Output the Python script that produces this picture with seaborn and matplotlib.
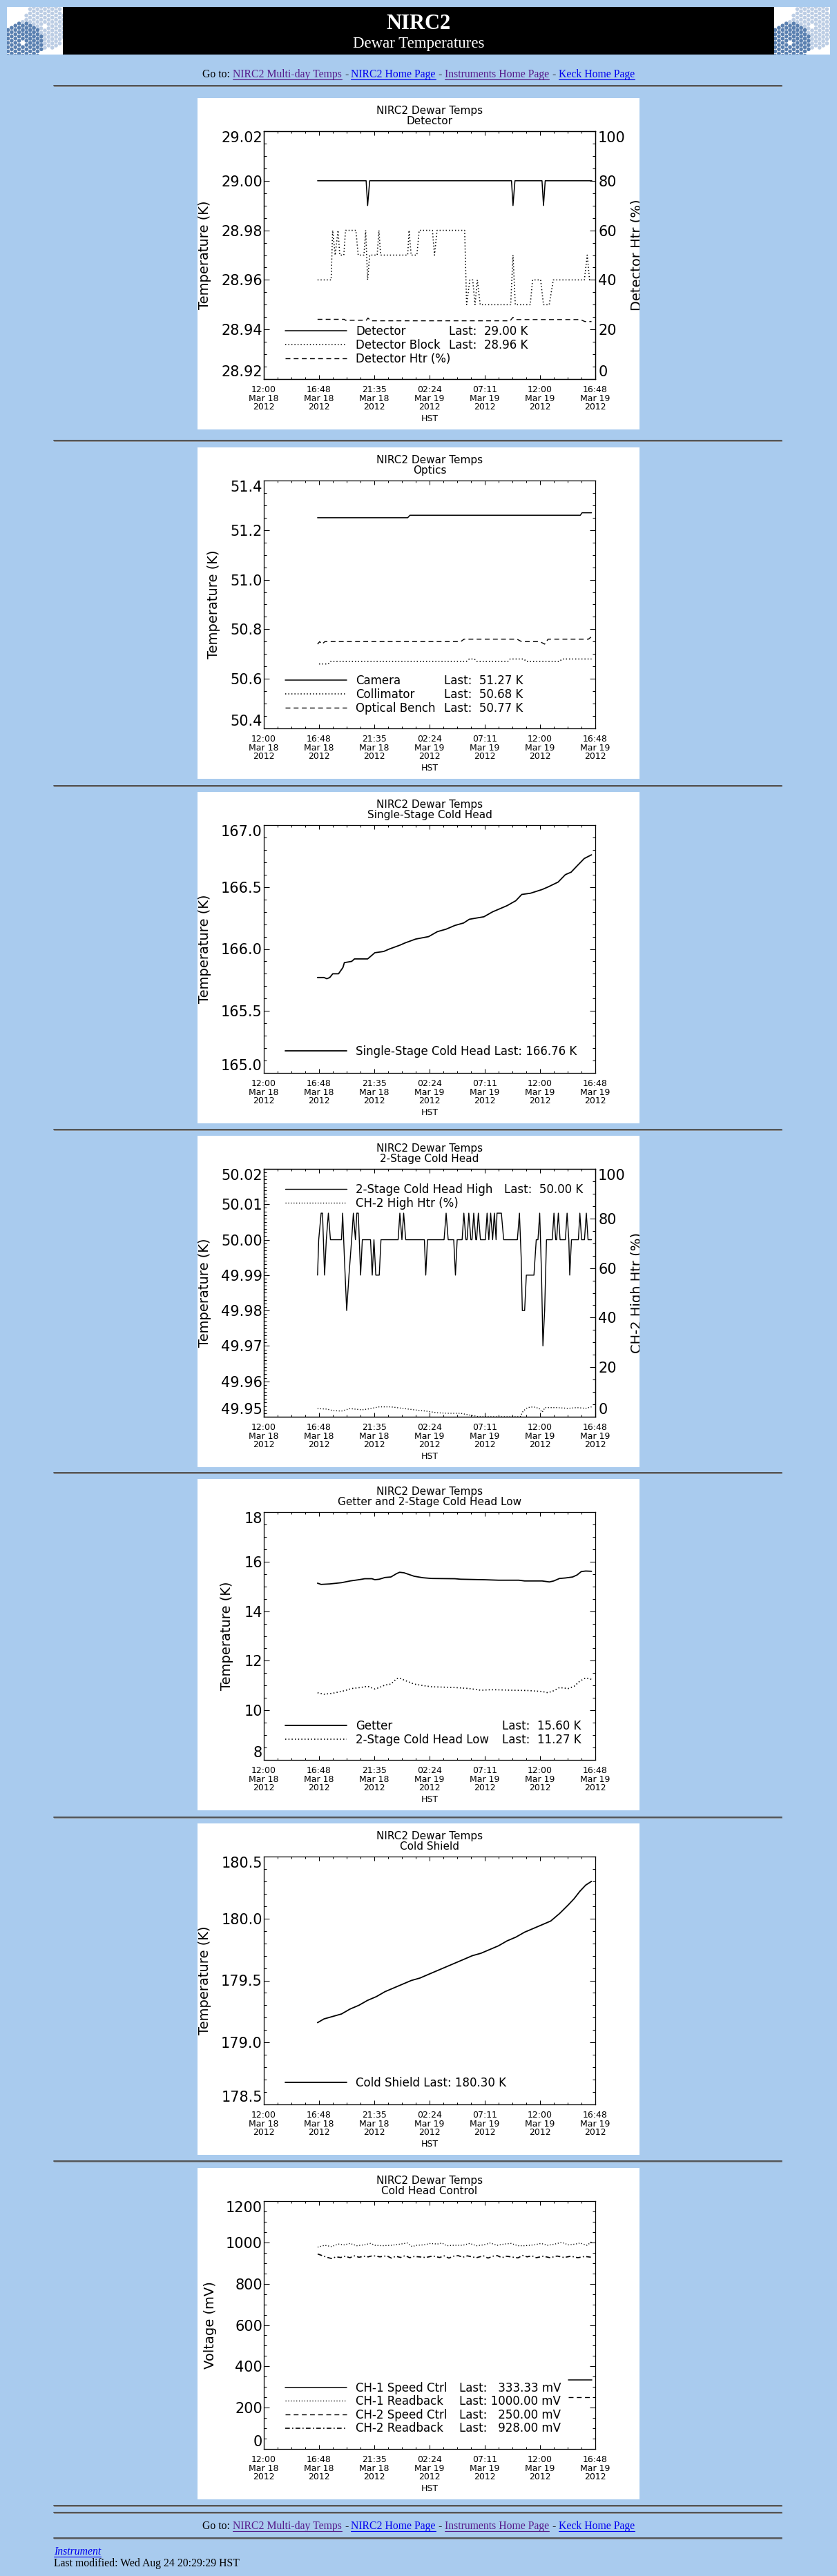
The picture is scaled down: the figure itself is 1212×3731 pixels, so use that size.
import numpy as np
import pandas as pd
import matplotlib
matplotlib.use("Agg")
import matplotlib.pyplot as plt
import seaborn as sns
import matplotlib.transforms as mtransforms
from matplotlib.patches import Rectangle, Circle
from matplotlib.lines import Line2D
from matplotlib.ticker import MultipleLocator, FormatStrFormatter

# ------------------------------------------------------------------ data
# time axis: hours since 12:00 Mar 18 2012 (HST)
x_ticks = [0.0, 4.8, 9.6, 14.4, 19.2, 24.0, 28.8]
x_tick_labels = ["12:00\nMar 18\n2012", "16:48\nMar 18\n2012", "21:35\nMar 18\n2012",
                 "02:24\nMar 19\n2012", "07:11\nMar 19\n2012", "12:00\nMar 19\n2012",
                 "16:48\nMar 19\n2012"]

# chart 1 : Detector
det_t = [4.67, 8.89, 9.02, 9.20, 21.52, 21.65, 21.82, 24.17, 24.30, 24.45, 28.50]
det_v = [29.00, 29.00, 28.99, 29.00, 29.00, 28.99, 29.00, 29.00, 28.99, 29.00, 29.00]
blk_t = [4.67, 5.85, 5.98, 6.20, 6.45, 6.60, 6.95, 7.10, 8.00, 8.20,
         8.70, 8.85, 9.02, 9.20, 9.85, 10.00, 10.15, 12.50, 12.62, 12.80,
         13.30, 13.50, 14.65, 14.83, 15.05, 17.45, 17.62, 17.90, 18.15, 18.35,
         18.55, 18.80, 21.45, 21.65, 21.85, 23.15, 23.35, 24.05, 24.30, 24.80,
         25.15, 27.85, 28.10, 28.30, 28.47]
blk_v = [28.96, 28.96, 28.98, 28.97, 28.98, 28.97, 28.97, 28.98, 28.98, 28.97,
         28.97, 28.98, 28.96, 28.97, 28.97, 28.98, 28.97, 28.97, 28.98, 28.97,
         28.97, 28.98, 28.98, 28.97, 28.98, 28.98, 28.95, 28.96, 28.96, 28.95,
         28.96, 28.95, 28.95, 28.97, 28.95, 28.95, 28.96, 28.96, 28.95, 28.95,
         28.96, 28.96, 28.97, 28.96, 28.96]
htr_t = [4.67, 7.00, 7.10, 8.90, 9.05, 9.30, 21.40, 21.65, 21.90, 27.50, 27.90, 28.47]
htr_v = [24.1, 24.1, 23.7, 23.7, 24.6, 23.5, 23.5, 24.9, 24.0, 24.0, 23.2, 23.2]

# chart 2 : Optics
cam_t = [4.67, 12.50, 12.70, 27.50, 27.65, 28.47]
cam_v = [51.25, 51.25, 51.26, 51.26, 51.27, 51.27]
col_t = [4.80, 5.60, 5.80, 17.60, 17.85, 18.30, 18.50, 21.20, 21.40, 22.60, 22.80, 25.70, 25.90, 28.47]
col_v = [50.66, 50.66, 50.67, 50.67, 50.68, 50.68, 50.67, 50.67, 50.68, 50.68, 50.67, 50.67, 50.68, 50.68]
ob_t = [4.67, 4.85, 5.05, 5.30, 17.10, 17.40, 22.00, 22.40, 24.00, 24.40, 24.70, 28.20, 28.47]
ob_v = [50.74, 50.75, 50.74, 50.75, 50.75, 50.76, 50.76, 50.75, 50.75, 50.74, 50.76, 50.76, 50.77]

# chart 3 : Single-stage cold head
ss_t = [4.67, 5.23, 5.48, 5.73, 5.99, 6.49, 6.87, 7.00, 7.63, 7.88,
        9.02, 9.65, 10.41, 10.91, 11.80, 12.30, 13.19, 14.32, 15.08, 15.84,
        16.60, 17.36, 17.86, 18.49, 19.12, 19.88, 20.64, 21.14, 21.90, 22.41,
        23.17, 24.18, 24.68, 25.57, 26.20, 26.70, 27.21, 27.84, 28.47]
ss_v = [165.77, 165.77, 165.76, 165.77, 165.80, 165.80, 165.85, 165.89, 165.90, 165.92,
        165.92, 165.97, 165.98, 166.00, 166.03, 166.05, 166.08, 166.10, 166.14, 166.16,
        166.19, 166.21, 166.24, 166.25, 166.26, 166.30, 166.33, 166.35, 166.39, 166.44,
        166.45, 166.48, 166.50, 166.54, 166.60, 166.62, 166.67, 166.73, 166.76]

# chart 4 : 2-stage cold head
ch2h_t = [4.67, 4.77, 4.98, 5.10, 5.28, 5.43, 5.61, 5.79, 6.75, 6.85,
          7.00, 7.20, 7.40, 7.63, 7.78, 7.96, 8.08, 8.21, 8.41, 8.56,
          9.27, 9.42, 9.57, 9.73, 10.03, 10.18, 11.67, 11.82, 12.00, 12.15,
          12.33, 13.95, 14.07, 14.22, 15.66, 15.84, 16.02, 16.50, 16.65, 16.80,
          17.23, 17.38, 17.56, 17.66, 17.81, 17.99, 18.09, 18.24, 18.42, 18.49,
          18.64, 18.82, 19.25, 19.40, 19.55, 19.71, 19.88, 20.03, 20.18, 20.26,
          20.64, 20.84, 22.03, 22.21, 22.36, 22.46, 22.66, 22.81, 23.47, 23.67,
          23.82, 23.97, 24.13, 24.25, 24.40, 24.56, 25.06, 25.21, 25.36, 25.44,
          25.59, 25.74, 26.20, 26.35, 26.50, 26.58, 26.73, 27.33, 27.46, 27.61,
          27.86, 28.02, 28.17, 28.47]
ch2h_v = [49.990, 50.000, 50.0075, 50.0075, 49.990, 50.000, 50.0075, 50.000, 50.000, 50.0075,
          49.995, 49.980, 49.990, 50.000, 50.0075, 50.000, 50.0075, 50.0075, 49.990, 50.000,
          50.000, 49.990, 50.000, 49.990, 49.990, 50.000, 50.000, 50.0075, 50.000, 50.0075,
          50.000, 50.000, 49.990, 50.000, 50.000, 50.0075, 50.000, 50.000, 49.990, 50.000,
          50.000, 50.0075, 50.000, 50.000, 50.0075, 50.000, 50.000, 50.0075, 50.000, 50.000,
          50.0075, 50.000, 50.000, 50.0075, 50.000, 50.0075, 50.000, 50.0075, 50.000, 50.0075,
          50.0075, 50.000, 50.000, 50.0075, 49.995, 49.980, 49.980, 49.990, 49.990, 50.000,
          50.000, 50.0075, 49.990, 49.970, 49.980, 50.000, 50.000, 50.0075, 50.000, 50.000,
          50.0075, 50.000, 50.000, 50.0075, 50.000, 49.990, 50.000, 50.000, 50.0075, 50.000,
          50.000, 50.0075, 50.000, 50.000]
ch2htr_t = [4.67, 5.48, 5.99, 6.75, 7.50, 8.51, 9.02, 10.03, 11.04, 12.05,
            13.06, 14.07, 15.08, 16.09, 17.10, 17.86, 18.37, 18.62, 22.28, 22.53,
            22.91, 23.42, 23.92, 24.18, 24.43, 25.44, 26.45, 27.21, 27.97, 28.47]
ch2htr_v = [3.3, 3.1, 2.5, 2.3, 3.3, 2.8, 3.1, 4.0, 4.0, 3.4,
            2.8, 2.3, 1.6, 1.4, 1.4, 0.7, 0.3, 0.0, 0.0, 2.3,
            3.7, 4.0, 3.4, 1.8, 3.7, 3.7, 3.4, 3.7, 3.4, 4.0]

# chart 5 : Getter and 2-stage cold head low
get_t = [4.67, 4.98, 5.73, 6.75, 7.50, 8.26, 8.77, 9.40, 9.65, 10.03,
         10.53, 11.04, 11.55, 11.80, 12.18, 12.68, 13.06, 13.82, 14.58, 16.60,
         17.10, 19.12, 20.39, 22.16, 22.66, 24.18, 24.81, 25.19, 25.69, 26.20,
         26.83, 27.21, 27.59, 27.97, 28.47]
get_v = [15.13, 15.08, 15.10, 15.15, 15.22, 15.27, 15.31, 15.31, 15.27, 15.29,
         15.36, 15.38, 15.52, 15.57, 15.55, 15.47, 15.41, 15.35, 15.32, 15.31,
         15.29, 15.27, 15.25, 15.25, 15.22, 15.22, 15.18, 15.22, 15.32, 15.34,
         15.38, 15.46, 15.60, 15.62, 15.61]
low_t = [4.67, 5.23, 5.99, 7.00, 7.63, 8.39, 9.02, 9.65, 10.03, 10.53,
         11.04, 11.55, 11.80, 12.30, 13.06, 13.82, 14.58, 15.33, 16.60, 17.86,
         18.87, 19.63, 20.13, 21.65, 22.91, 24.18, 24.68, 25.19, 25.69, 26.45,
         26.96, 27.46, 27.97, 28.47]
low_v = [10.71, 10.65, 10.69, 10.79, 10.88, 10.92, 10.97, 10.86, 10.92, 11.02,
         11.06, 11.28, 11.30, 11.20, 11.06, 11.00, 10.95, 10.94, 10.92, 10.88,
         10.81, 10.83, 10.83, 10.81, 10.80, 10.76, 10.71, 10.79, 10.92, 10.88,
         10.97, 11.18, 11.31, 11.25]

# chart 6 : Cold shield
cs_t = [4.67, 5.23, 5.99, 6.75, 7.50, 8.26, 9.02, 9.78, 10.53, 11.29,
        12.05, 12.81, 13.57, 14.32, 15.08, 15.84, 16.60, 17.36, 18.11, 18.87,
        19.63, 20.39, 21.14, 21.90, 22.66, 23.42, 24.18, 24.93, 25.69, 26.45,
        26.96, 27.46, 27.97, 28.47]
cs_v = [179.16, 179.19, 179.21, 179.23, 179.27, 179.30, 179.34, 179.37, 179.41, 179.44,
        179.47, 179.50, 179.52, 179.55, 179.58, 179.61, 179.64, 179.67, 179.70, 179.72,
        179.75, 179.78, 179.82, 179.85, 179.89, 179.92, 179.95, 179.98, 180.04, 180.11,
        180.16, 180.22, 180.27, 180.30]

# chart 7 : Cold head control (mV)
sp1_t = [26.45, 28.47]
sp1_v = [333.33, 333.33]
rb1_t = [4.68, 5.28, 5.88, 6.48, 6.98, 7.48, 8.08, 8.68, 9.28, 9.68,
         10.28, 11.08, 11.88, 12.48, 12.88, 13.28, 13.88, 14.48, 15.08, 15.48,
         15.88, 16.48, 17.28, 17.88, 18.48, 19.08, 19.68, 20.28, 20.88, 21.48,
         22.08, 22.68, 23.48, 24.08, 24.68, 25.28, 25.88, 26.48, 27.08, 27.48,
         28.08, 28.48]
rb1_v = [977, 986, 980, 992, 988, 995, 984, 988, 995, 986,
         984, 986, 992, 997, 980, 986, 988, 995, 992, 997,
         984, 986, 986, 995, 984, 988, 997, 986, 992, 995,
         984, 984, 988, 995, 986, 992, 1000, 988, 992, 997,
         986, 1003]
sp2_t = [26.45, 28.47]
sp2_v = [250.0, 250.0]
rb2_t = [4.68, 5.08, 5.48, 5.88, 6.28, 6.68, 7.08, 7.48, 7.88, 8.28,
         8.68, 9.08, 9.48, 10.08, 10.68, 11.08, 11.48, 11.88, 12.28, 12.68,
         13.08, 13.48, 14.08, 14.68, 15.28, 15.68, 16.08, 16.48, 16.88, 17.28,
         17.68, 18.08, 18.48, 19.08, 19.48, 19.88, 20.28, 20.68, 21.08, 21.48,
         22.08, 22.48, 22.88, 23.28, 23.68, 24.28, 24.88, 25.48, 26.08, 26.68,
         27.28, 27.88, 28.48]
rb2_v = [944, 936, 928, 922, 930, 927, 933, 926, 935, 928,
         933, 930, 936, 930, 935, 924, 933, 927, 936, 926,
         932, 930, 927, 934, 927, 935, 924, 933, 936, 928,
         935, 930, 926, 935, 924, 933, 936, 926, 933, 930,
         925, 937, 930, 935, 926, 933, 926, 934, 927, 933,
         926, 932, 928]

# legend texts
c1_names = ["Detector", "Detector Block", "Detector Htr (%)"]
c1_vals = ["Last:  29.00 K", "Last:  28.96 K", " "]
c2_names = ["Camera", "Collimator", "Optical Bench"]
c2_vals = ["Last:  51.27 K", "Last:  50.68 K", "Last:  50.77 K"]
c3_names = ["Single-Stage Cold Head Last: 166.76 K"]
c4_names = ["2-Stage Cold Head High", "CH-2 High Htr (%)"]
c4_vals = ["Last:  50.00 K", " "]
c5_names = ["Getter", "2-Stage Cold Head Low"]
c5_vals = ["Last:  15.60 K", "Last:  11.27 K"]
c6_names = ["Cold Shield Last: 180.30 K"]
c7_names = ["CH-1 Speed Ctrl", "CH-1 Readback", "CH-2 Speed Ctrl", "CH-2 Readback"]
c7_vals = ["Last: \u2007333.33 mV", "Last: 1000.00 mV", "Last: \u2007250.00 mV", "Last: \u2007928.00 mV"]

# ------------------------------------------------------------------ setup
W, H, DPI = 1212, 3731, 100
BG = "#a9cbee"
VISITED = "#551a8b"
LINK = "#0000ee"
SERIF = "Liberation Serif"
DOT = (0.9, 1.9)
DASH = (5, 3.5)

sns.set_theme(style="ticks", rc={
    "axes.edgecolor": "black", "xtick.color": "black", "ytick.color": "black",
    "text.color": "black", "axes.labelcolor": "black", "axes.facecolor": "white"})
plt.rcParams["font.family"] = ["DejaVu Sans"]

fig = plt.figure(figsize=(W / DPI, H / DPI), dpi=DPI)
fig.patch.set_facecolor(BG)
PX = mtransforms.Affine2D().scale(1.0 / W, -1.0 / H).translate(0, 1) + fig.transFigure
renderer = fig.canvas.get_renderer()

AX_L, AX_W, AX_H, AX_OFF = 382, 480, 359, 48
PANEL_L, PANEL_W, PANEL_H = 286, 640, 480


def hr(y):
    fig.add_artist(Line2D([78, 1132], [y, y], transform=PX, color="#4a4a4a", lw=1.3))
    fig.add_artist(Line2D([78, 1132], [y + 1.2, y + 1.2], transform=PX, color="#8a8a8a", lw=0.6))


def make_panel(top, subtitle):
    fig.add_artist(Rectangle((PANEL_L, top), PANEL_W, PANEL_H, transform=PX,
                             facecolor="white", edgecolor="none", zorder=-5))
    ax = fig.add_axes([AX_L / W, 1 - (top + AX_OFF + AX_H) / H, AX_W / W, AX_H / H])
    cx = AX_L + AX_W / 2
    fig.text(cx, top + 23, "NIRC2 Dewar Temps", transform=PX, ha="center", va="baseline", fontsize=11)
    fig.text(cx, top + 38, subtitle, transform=PX, ha="center", va="baseline", fontsize=11)
    return ax


def style_axes(ax, ylim, yticks, yfmt, yminor, ylabel, ylabel_x, right=True):
    ax.set_facecolor("white")
    ax.set_xlim(0, 28.8)
    ax.set_ylim(*ylim)
    ax.set_xticks(x_ticks, labels=x_tick_labels)
    ax.xaxis.set_minor_locator(MultipleLocator(1.2))
    ax.set_yticks(yticks)
    ax.yaxis.set_major_formatter(FormatStrFormatter(yfmt))
    ax.yaxis.set_minor_locator(MultipleLocator(yminor))
    ax.tick_params(axis="x", which="both", direction="in", top=True, bottom=True,
                   width=0.75, labelsize=9, pad=6.5, labelcolor="black")
    ax.tick_params(axis="x", which="major", length=4.1)
    ax.tick_params(axis="x", which="minor", length=2.1)
    ax.tick_params(axis="y", which="both", direction="in", left=True, right=right,
                   width=0.75, labelsize=15, pad=1.5, labelcolor="black")
    ax.tick_params(axis="y", which="major", length=5.5)
    ax.tick_params(axis="y", which="minor", length=2.8)
    for sp in ax.spines.values():
        sp.set_visible(True)
        sp.set_linewidth(0.9)
        sp.set_color("black")
    ax.grid(False)
    ax.set_xlabel("HST", fontsize=9, labelpad=3)
    for lab in ax.get_xticklabels():
        lab.set_linespacing(0.95)
    labs = ax.get_yticklabels()
    labs[0].set_va("bottom")
    labs[-1].set_va("top")
    ax.set_ylabel(ylabel, fontsize=14)
    ax.yaxis.set_label_coords((ylabel_x - AX_L) / AX_W, 0.5)
    ax.yaxis.label.set_va("center")


def style_right(ax2, label, top):
    ax2.set_ylim(0, 100)
    ax2.set_yticks([0, 20, 40, 60, 80, 100])
    ax2.yaxis.set_major_formatter(FormatStrFormatter("%d"))
    ax2.yaxis.set_minor_locator(MultipleLocator(5))
    ax2.tick_params(axis="y", which="both", direction="in", right=True, left=False,
                    width=0.75, labelsize=15, pad=3, labelcolor="black")
    ax2.tick_params(axis="y", which="major", length=5.5)
    ax2.tick_params(axis="y", which="minor", length=2.8)
    for sp in ax2.spines.values():
        sp.set_linewidth(0.9)
        sp.set_color("black")
    ax2.grid(False)
    labs = ax2.get_yticklabels()
    labs[0].set_va("bottom")
    labs[-1].set_va("top")
    ax2.set_ylabel(label, fontsize=14)
    ax2.yaxis.set_label_coords((913 - AX_L) / AX_W, 0.5)
    clip = mtransforms.TransformedBbox(
        mtransforms.Bbox.from_extents(PANEL_L / W, 1 - (top + PANEL_H) / H,
                                      (PANEL_L + PANEL_W) / W, 1 - top / H),
        fig.transFigure)
    ax2.yaxis.label.set_clip_box(clip)
    ax2.yaxis.label.set_clip_on(True)


def line(ax, t, v, style="-", dashes=None, lw=1.1):
    sns.lineplot(x=t, y=v, ax=ax, color="black", linewidth=lw, linestyle=style,
                 estimator=None, sort=False, legend=False)
    ln = ax.lines[-1]
    if dashes is not None:
        ln.set_dashes(dashes)
    return ln


def legend(ax, handles, names, yc_rel, values=None, xval=None):
    y_frac = 1 - yc_rel / AX_H
    kw = dict(frameon=False, borderpad=0, borderaxespad=0, labelspacing=0.1,
              prop={"size": 12}, loc="center left")
    leg = ax.legend(handles, names, bbox_to_anchor=((412.6 - AX_L) / AX_W, y_frac),
                    handlelength=5.35, handletextpad=0.8, **kw)
    if values is not None:
        ax.add_artist(leg)
        blanks = [Line2D([], [], linestyle="none") for _ in values]
        ax.legend(blanks, values, bbox_to_anchor=((xval - AX_L) / AX_W, y_frac),
                  handlelength=0, handletextpad=0, **kw)


def adv_width(s, size, style="normal"):
    t1 = fig.text(0, 0, "x" + s + "x", fontsize=size, family=SERIF, style=style)
    t2 = fig.text(0, 0, "xx", fontsize=size, family=SERIF, style=style)
    w = t1.get_window_extent(renderer).width - t2.get_window_extent(renderer).width
    t1.remove()
    t2.remove()
    return w


NAV = [("Go to:", "black", False), ("NIRC2 Multi-day Temps", VISITED, True), ("-", "black", False),
       ("NIRC2 Home Page", LINK, True), ("-", "black", False),
       ("Instruments Home Page", VISITED, True), ("-", "black", False), ("Keck Home Page", LINK, True)]


def nav_line(y_base, cx=606, target=624):
    size = 12.0
    ws = [adv_width(p[0], size) for p in NAV]
    sp = adv_width(" ", size)
    total = sum(ws) + sp * (len(NAV) - 1)
    size *= target / total
    ws = [adv_width(p[0], size) for p in NAV]
    sp = adv_width(" ", size)
    total = sum(ws) + sp * (len(NAV) - 1)
    x = cx - total / 2
    for (s, col, ul), w in zip(NAV, ws):
        fig.text(x, y_base, s, transform=PX, fontsize=size, family=SERIF, color=col,
                 ha="left", va="baseline")
        if ul:
            fig.add_artist(Line2D([x, x + w], [y_base + 2.5] * 2, transform=PX, color=col, lw=0.8))
        x += w + sp
    return size


def draw_logo(x0, y0, w=81, h=69):
    fig.add_artist(Rectangle((x0, y0), w, h, transform=PX, facecolor="white",
                             edgecolor="none", zorder=1))
    clip = Rectangle((x0, y0), w, h, transform=PX, facecolor="none", edgecolor="none")
    step = 6.2
    for k, (cx, cy, R, col) in enumerate([(x0 + 55, y0 + 28, 33, "#bccde4"),
                                          (x0 + 23, y0 + 52, 29, "#5a80b0")]):
        for j in range(-7, 8):
            for i in range(-7, 8):
                yy = cy + step * (i + 0.5 * (j % 2))
                xx = cx + step * 0.866 * j
                d = np.hypot(xx - cx, yy - cy)
                if 4 < d <= R:
                    c = Circle((xx, yy), 2.8, transform=PX, facecolor=col,
                               edgecolor="none", zorder=2 + k)
                    c.set_clip_path(clip)
                    fig.add_artist(c)


# ------------------------------------------------------------------ header
draw_logo(10, 10)
draw_logo(1121, 10)
fig.add_artist(Rectangle((91, 10), 1030, 69, transform=PX, facecolor="black", edgecolor="none", zorder=1))
fig.text(606, 42, "NIRC2", transform=PX, ha="center", va="baseline", color="white",
         family=SERIF, fontweight="bold", fontsize=22, zorder=5)
fig.text(606, 69, "Dewar Temperatures", transform=PX, ha="center", va="baseline", color="white",
         family=SERIF, fontsize=16.5, zorder=5)
nav_size = nav_line(112)

for y in [124, 638, 1137.5, 1636, 2132.5, 2631.5, 3130, 3629, 3639, 3676]:
    hr(y)

# ------------------------------------------------------------------ charts
tops = [142, 648, 1147, 1645, 2142, 2641, 3140]

# 1 Detector
ax = make_panel(tops[0], "Detector")
style_axes(ax, (28.92, 29.02), [28.92, 28.94, 28.96, 28.98, 29.00, 29.02], "%.2f", 0.005,
           "Temperature (K)", 297, right=False)
h1 = line(ax, det_t, det_v, "-")
h2 = line(ax, blk_t, blk_v, ":", dashes=DOT, lw=1.15)
ax2 = ax.twinx()
style_right(ax2, "Detector Htr (%)", tops[0])
h3 = line(ax2, htr_t, htr_v, "--", dashes=DASH, lw=1.0)
ax2.set_ylim(0, 100)
legend(ax2, [h1, h2, h3], c1_names, 310, c1_vals, 650)

# 2 Optics
ax = make_panel(tops[1], "Optics")
style_axes(ax, (50.4, 51.4), [50.4, 50.6, 50.8, 51.0, 51.2, 51.4], "%.1f", 0.05,
           "Temperature (K)", 309.5)
h1 = line(ax, cam_t, cam_v, "-")
h2 = line(ax, col_t, col_v, ":", dashes=DOT, lw=1.15)
h3 = line(ax, ob_t, ob_v, "--", dashes=DASH, lw=1.0)
legend(ax, [h1, h2, h3], c2_names, 310, c2_vals, 643)

# 3 Single-stage cold head
ax = make_panel(tops[2], "Single-Stage Cold Head")
style_axes(ax, (165.0, 167.0), [165.0, 165.5, 166.0, 166.5, 167.0], "%.1f", 0.1,
           "Temperature (K)", 297)
h1 = line(ax, ss_t, ss_v, "-", lw=1.3)
legend(ax, [h1], c3_names, 327.7)

# 4 2-stage cold head
ax = make_panel(tops[3], "2-Stage Cold Head")
style_axes(ax, (49.95, 50.02), [49.95, 49.96, 49.97, 49.98, 49.99, 50.00, 50.01, 50.02], "%.2f", 0.001,
           "Temperature (K)", 297, right=False)
h1 = line(ax, ch2h_t, ch2h_v, "-", lw=1.0)
ax2 = ax.twinx()
style_right(ax2, "CH-2 High Htr (%)", tops[3])
h2 = line(ax2, ch2htr_t, ch2htr_v, ":", dashes=DOT, lw=1.0)
ax2.set_ylim(0, 100)
legend(ax2, [h1, h2], c4_names, 40, c4_vals, 730)

# 5 Getter
ax = make_panel(tops[4], "Getter and 2-Stage Cold Head Low")
style_axes(ax, (8, 18), [8, 10, 12, 14, 16, 18], "%d", 0.5, "Temperature (K)", 328.5)
h1 = line(ax, get_t, get_v, "-", lw=1.3)
h2 = line(ax, low_t, low_v, ":", dashes=DOT, lw=1.2)
legend(ax, [h1, h2], c5_names, 320, c5_vals, 727)

# 6 Cold shield
ax = make_panel(tops[5], "Cold Shield")
style_axes(ax, (178.5, 180.5), [178.5, 179.0, 179.5, 180.0, 180.5], "%.1f", 0.1,
           "Temperature (K)", 297)
h1 = line(ax, cs_t, cs_v, "-", lw=1.3)
legend(ax, [h1], c6_names, 327.7)

# 7 Cold head control
ax = make_panel(tops[6], "Cold Head Control")
style_axes(ax, (0, 1200), [0, 200, 400, 600, 800, 1000, 1200], "%d", 50, "Voltage (mV)", 304.5)
h1 = line(ax, sp1_t, sp1_v, "-")
h2 = line(ax, rb1_t, rb1_v, ":", dashes=DOT, lw=1.0)
h3 = line(ax, sp2_t, sp2_v, "--", dashes=DASH, lw=1.0)
h4 = line(ax, rb2_t, rb2_v, "-.", dashes=(4, 2, 1, 2), lw=1.2)
legend(ax, [h1, h2, h3, h4], c7_names, 300, c7_vals, 665)

# ------------------------------------------------------------------ footer
nav_line(3663)
fig.text(78, 3700, "Instrument", transform=PX, ha="left", va="baseline", color=LINK,
         family=SERIF, style="italic", fontsize=nav_size)
w_inst = adv_width("Instrument", nav_size, style="italic")
fig.add_artist(Line2D([78, 78 + w_inst], [3702.5] * 2, transform=PX, color=LINK, lw=0.8))
fig.text(78, 3717, "Last modified: Wed Aug 24 20:29:29 HST", transform=PX, ha="left",
         va="baseline", color="black", family=SERIF, fontsize=nav_size)

fig.savefig("out.png", dpi=DPI, facecolor=BG)
